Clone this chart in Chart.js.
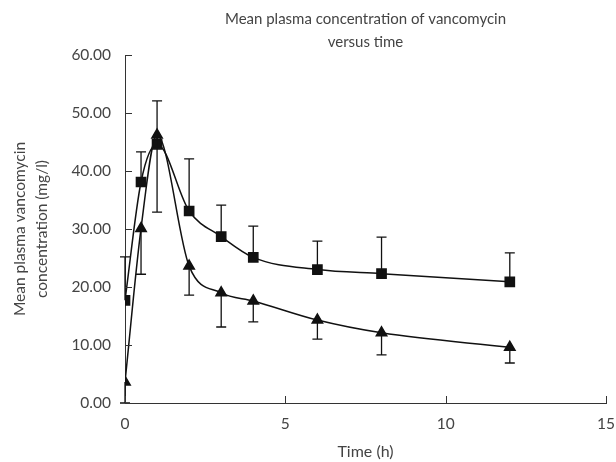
<!DOCTYPE html>
<html>
<head>
<meta charset="utf-8">
<script src="https://cdn.jsdelivr.net/npm/chart.js@4.4.0/dist/chart.umd.min.js"></script>
<style>
  body { margin: 0; background: #fff; }
  #wrap { width: 616px; height: 462px; }
</style>
</head>
<body>
<div id="wrap"><canvas id="graph"></canvas></div>
<script>
// temps en heures
const temps = [0, 0.5, 1, 2, 3, 4, 6, 8, 12];

// série carrés (barre d'erreur vers le haut)
const moyCarre = [17.7, 38.1, 44.6, 33.1, 28.7, 25.1, 23.0, 22.3, 20.9];
const hautCarre = [25.2, 43.3, 52.1, 42.1, 34.1, 30.5, 27.9, 28.6, 25.9];

// série triangles (barre d'erreur vers le bas)
const moyTri = [3.6, 30.1, 46.2, 23.6, 19.0, 17.6, 14.3, 12.1, 9.6];
const basTri = [0, 22.2, 32.9, 18.6, 13.1, 14.0, 11.0, 8.3, 6.9];

const ticksY = [0, 10, 20, 30, 40, 50, 60];
const ticksX = [0, 5, 10, 15];

const police = "Lato, 'Open Sans', sans-serif";
const gris = "#444";

function points(xs, ys) {
    let res = [];
    for (let i = 0; i < xs.length; i++) {
        res.push({ x: xs[i], y: ys[i] });
    }
    return res;
}

// barres d'erreur + petites graduations vers l'intérieur
const pluginErreurs = {
    id: "erreurs",
    afterDatasetsDraw(chart) {
        const ctx = chart.ctx;
        const sx = chart.scales.x;
        const sy = chart.scales.y;
        const cap = 5;
        ctx.save();
        ctx.strokeStyle = "#111";
        ctx.lineWidth = 1.3;

        const barres = [
            { moy: moyCarre, bout: hautCarre },
            { moy: moyTri, bout: basTri }
        ];
        barres.forEach(b => {
            for (let i = 0; i < temps.length; i++) {
                const px = sx.getPixelForValue(temps[i]);
                const p1 = sy.getPixelForValue(b.moy[i]);
                const p2 = sy.getPixelForValue(b.bout[i]);
                ctx.beginPath();
                ctx.moveTo(px, p1);
                ctx.lineTo(px, p2);
                ctx.moveTo(px - cap, p2);
                ctx.lineTo(px + cap, p2);
                ctx.stroke();
            }
        });

        // graduations
        ctx.strokeStyle = "#333";
        ctx.lineWidth = 1;
        const gauche = chart.chartArea.left;
        const bas = chart.chartArea.bottom;
        ticksY.forEach(v => {
            const py = Math.round(sy.getPixelForValue(v)) + 0.5;
            ctx.beginPath();
            ctx.moveTo(gauche, py);
            ctx.lineTo(gauche + 7, py);
            ctx.stroke();
        });
        ticksX.forEach(v => {
            const px = Math.round(sx.getPixelForValue(v)) + 0.5;
            ctx.beginPath();
            ctx.moveTo(px, bas);
            ctx.lineTo(px, bas - 7);
            ctx.stroke();
        });
        ctx.restore();
    }
};

const ctx = document.getElementById("graph").getContext("2d");

new Chart(ctx, {
    type: "scatter",
    data: {
        datasets: [
            {
                label: "carrés",
                data: points(temps, moyCarre),
                showLine: true,
                borderColor: "#111",
                backgroundColor: "#111",
                borderWidth: 1.5,
                cubicInterpolationMode: "monotone",
                pointStyle: "rect",
                pointRadius: 6.5,
                pointHoverRadius: 6.5
            },
            {
                label: "triangles",
                data: points(temps, moyTri),
                showLine: true,
                borderColor: "#111",
                backgroundColor: "#111",
                borderWidth: 1.5,
                cubicInterpolationMode: "monotone",
                pointStyle: "triangle",
                pointRadius: 6,
                pointHoverRadius: 6
            }
        ]
    },
    options: {
        responsive: true,
        maintainAspectRatio: false,
        animation: false,
        layout: { padding: { top: 0, right: 10, bottom: 0, left: 0 } },
        plugins: {
            legend: { display: false },
            tooltip: { enabled: false },
            title: {
                display: true,
                fullSize: false,
                text: ["Mean plasma concentration of vancomycin", "versus time"],
                color: gris,
                font: { family: police, size: 15, weight: "normal", lineHeight: 1.5 },
                padding: { top: 8, bottom: 2 }
            }
        },
        scales: {
            x: {
                type: "linear",
                min: 0,
                max: 15,
                afterBuildTicks: s => { s.ticks = ticksX.map(v => ({ value: v })); },
                afterFit: s => { s.height = 59; s.paddingRight = 0; },
                grid: { display: false, drawTicks: false },
                border: { display: true, color: "#333", width: 1 },
                ticks: {
                    color: gris,
                    padding: 12,
                    font: { family: police, size: 15.5 }
                },
                title: {
                    display: true,
                    text: "Time (h)",
                    color: gris,
                    font: { family: police, size: 16 },
                    padding: { top: 0, bottom: 1 }
                }
            },
            y: {
                min: 0,
                max: 60,
                afterBuildTicks: s => { s.ticks = ticksY.map(v => ({ value: v })); },
                afterFit: s => { s.width = 125; },
                grid: { display: false, drawTicks: false },
                border: { display: true, color: "#333", width: 1 },
                ticks: {
                    color: gris,
                    padding: 14,
                    font: { family: police, size: 15.5 },
                    callback: v => v.toFixed(2)
                },
                title: {
                    display: true,
                    text: ["Mean plasma vancomycin", "concentration (mg/l)"],
                    color: gris,
                    font: { family: police, size: 15.5, lineHeight: 1.42 },
                    padding: { top: 9, bottom: 0 }
                }
            }
        }
    },
    plugins: [pluginErreurs]
});
</script>
</body>
</html>
